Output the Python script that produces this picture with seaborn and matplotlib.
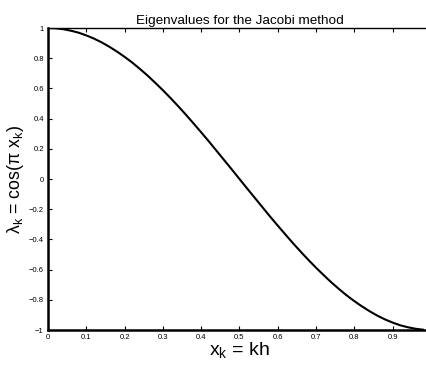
import matplotlib
matplotlib.use("Agg")
import matplotlib.pyplot as plt
import numpy as np
import pandas as pd
import seaborn as sb

# data
x_k = [0.00, 0.02, 0.04, 0.06, 0.08, 0.10, 0.12, 0.14, 0.16, 0.18,
       0.20, 0.22, 0.24, 0.26, 0.28, 0.30, 0.32, 0.34, 0.36, 0.38,
       0.40, 0.42, 0.44, 0.46, 0.48, 0.50, 0.52, 0.54, 0.56, 0.58,
       0.60, 0.62, 0.64, 0.66, 0.68, 0.70, 0.72, 0.74, 0.76, 0.78,
       0.80, 0.82, 0.84, 0.86, 0.88, 0.90, 0.92, 0.94, 0.96, 0.98]
lam_k = [1.000, 0.998, 0.992, 0.982, 0.969, 0.951, 0.930, 0.905, 0.876, 0.844,
         0.809, 0.771, 0.729, 0.685, 0.637, 0.588, 0.536, 0.482, 0.426, 0.368,
         0.309, 0.249, 0.187, 0.125, 0.063, 0.000, -0.063, -0.125, -0.187, -0.249,
         -0.309, -0.368, -0.426, -0.482, -0.536, -0.588, -0.637, -0.685, -0.729, -0.771,
         -0.809, -0.844, -0.876, -0.905, -0.930, -0.951, -0.969, -0.982, -0.992, -0.998]
x_ticks = [0, 0.1, 0.2, 0.3, 0.4, 0.5, 0.6, 0.7, 0.8, 0.9]
y_ticks = [-1, -0.8, -0.6, -0.4, -0.2, 0, 0.2, 0.4, 0.6, 0.8, 1]

df = pd.DataFrame({"x": x_k, "lam": lam_k})

sb.set_style("ticks")
plt.rcParams['font.family'] = ['Liberation Sans', 'DejaVu Sans']
plt.rcParams['mathtext.fontset'] = 'custom'
plt.rcParams['mathtext.rm'] = 'Liberation Sans'
plt.rcParams['mathtext.it'] = 'Liberation Sans'
plt.rcParams['text.color'] = 'black'
plt.rcParams['axes.labelcolor'] = 'black'

fig = plt.figure(figsize=(4.27, 3.67), dpi=100)
# axes runs a little past the right edge of the picture (cropped like the original)
ax = fig.add_axes([0.1124, 0.1008, 383 / 427, 0.8229])

sb.lineplot(data=df, x="x", y="lam", color="black", linewidth=1.5, ax=ax)

ax.set_xlim(0, 1)
ax.set_ylim(-1, 1)
ax.set_xticks(x_ticks)
ax.set_xticklabels(["0", "0.1", "0.2", "0.3", "0.4", "0.5", "0.6", "0.7", "0.8", "0.9"])
ax.set_yticks(y_ticks)
ax.set_yticklabels(["\u22121", "\u22120.8", "\u22120.6", "\u22120.4", "\u22120.2", "0",
                    "0.2", "0.4", "0.6", "0.8", "1"])
ax.tick_params(direction="in", length=3, width=0.8, labelsize=5.5, pad=3,
               top=True, right=True, colors="black")
for s in ax.spines.values():
    s.set_linewidth(1.0)
    s.set_color("black")
ax.spines['left'].set_linewidth(1.8)
ax.spines['bottom'].set_linewidth(1.8)

ax.set_title("Eigenvalues for the Jacobi method", fontsize=9.7, pad=3, color="black")
ax.set_xlabel(r"$\mathrm{x_k}$ = kh", fontsize=14, labelpad=-1)
ax.set_ylabel(r"$\mathrm{\lambda_k}$ = cos($\mathrm{\pi}$ $\mathrm{x_k}$)", fontsize=12.8, labelpad=2)

fig.savefig("out.png", dpi=100)
